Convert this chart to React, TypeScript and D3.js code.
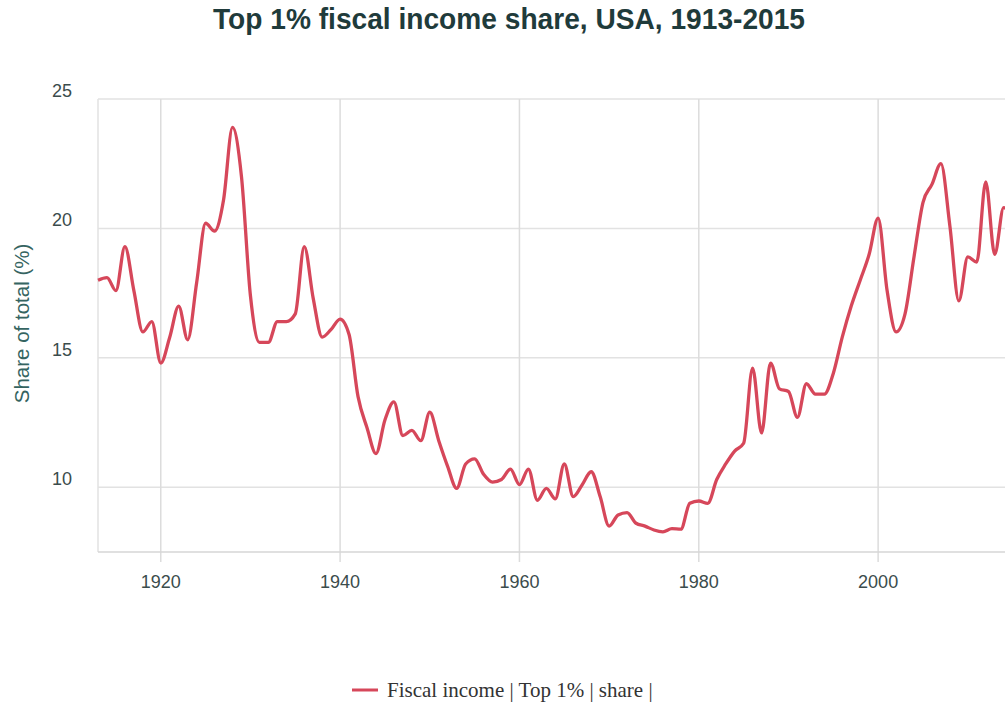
import * as d3 from "d3";
import React from "react";

// chart data: top 1% fiscal income share, USA
const years = [
  1913, 1914, 1915, 1916, 1917, 1918, 1919, 1920, 1921, 1922, 1923, 1924,
  1925, 1926, 1927, 1928, 1929, 1930, 1931, 1932, 1933, 1934, 1935, 1936,
  1937, 1938, 1939, 1940, 1941, 1942, 1943, 1944, 1945, 1946, 1947, 1948,
  1949, 1950, 1951, 1952, 1953, 1954, 1955, 1956, 1957, 1958, 1959, 1960,
  1961, 1962, 1963, 1964, 1965, 1966, 1967, 1968, 1969, 1970, 1971, 1972,
  1973, 1974, 1975, 1976, 1977, 1978, 1979, 1980, 1981, 1982, 1983, 1984,
  1985, 1986, 1987, 1988, 1989, 1990, 1991, 1992, 1993, 1994, 1995, 1996,
  1997, 1998, 1999, 2000, 2001, 2002, 2003, 2004, 2005, 2006, 2007, 2008,
  2009, 2010, 2011, 2012, 2013, 2014, 2015,
];

const shares = [
  18.0, 18.1, 17.6, 19.3, 17.6, 16.0, 16.4, 14.8, 15.8, 17.0, 15.7, 17.9,
  20.2, 19.9, 21.1, 23.9, 22.0, 17.4, 15.6, 15.6, 16.4, 16.4, 16.7, 19.3,
  17.3, 15.8, 16.1, 16.5, 15.9, 13.5, 12.3, 11.3, 12.6, 13.3, 12.0, 12.2,
  11.8, 12.9, 11.8, 10.8, 9.96, 10.9, 11.1, 10.5, 10.2, 10.3, 10.7, 10.1,
  10.7, 9.5, 9.96, 9.55, 10.9, 9.64, 10.1, 10.6, 9.64, 8.5, 8.93, 9.02,
  8.61, 8.5, 8.35, 8.28, 8.4, 8.38, 9.38, 9.47, 9.38, 10.3, 10.9, 11.4,
  11.7, 14.6, 12.1, 14.8, 13.8, 13.7, 12.7, 14.0, 13.6, 13.6, 14.4, 15.8,
  17.0, 18.0, 19.0, 20.4, 17.6, 16.0, 16.7, 18.9, 21.0, 21.7, 22.5, 20.1,
  17.2, 18.9, 18.7, 21.8, 19.0, 20.8, 20.5,
];

const xTicks = [1920, 1940, 1960, 1980, 2000];
const yTicks = [10, 15, 20, 25];

const title = "Top 1% fiscal income share, USA, 1913-2015";
const yTitle = "Share of total (%)";
const seriesName = "Fiscal income | Top 1% | share |";

const width = 1005;
const height = 702;
const left = 98;
const top = 99;
const bottom = 552;

export default function App() {
  const x = d3.scaleLinear().domain([1913, 2015]).range([left, left + 102 * 8.967]);
  const y = d3.scaleLinear().domain([7.5, 25]).range([bottom, top]);

  const points = years.map((yr, i) => [yr, shares[i]] as [number, number]);
  const line = d3
    .line<[number, number]>()
    .x((d) => x(d[0]))
    .y((d) => y(d[1]))
    .curve(d3.curveMonotoneX);

  const right = x(2015);
  const lineColor = "#d6475a";
  const labelColor = "#3b4c4c";
  const sans = "'Liberation Sans', Arial, Helvetica, sans-serif";

  return (
    <svg
      width={width}
      height={height}
      style={{ position: "absolute", left: 0, top: 0, background: "#fff" }}
    >
      <text
        x={509}
        y={29}
        textAnchor="middle"
        fontFamily={sans}
        fontWeight="bold"
        fontSize={30}
        fill="#1f3b3b"
        textLength={592}
        lengthAdjust="spacingAndGlyphs"
      >
        {title}
      </text>

      {/* horizontal grid */}
      {yTicks.map((t) => (
        <line
          key={"h" + t}
          x1={left}
          x2={right}
          y1={y(t)}
          y2={y(t)}
          stroke="#e2e2e2"
          strokeWidth={1.5}
        />
      ))}
      {/* vertical grid */}
      {xTicks.map((t) => (
        <line
          key={"v" + t}
          x1={x(t)}
          x2={x(t)}
          y1={top}
          y2={bottom + 10}
          stroke="#dcdcdc"
          strokeWidth={1.5}
        />
      ))}
      <line x1={left} x2={left} y1={top} y2={bottom} stroke="#e2e2e2" strokeWidth={1.5} />
      <line x1={left} x2={right} y1={bottom} y2={bottom} stroke="#d6d6d6" strokeWidth={1.5} />

      {yTicks.map((t) => (
        <text
          key={"yl" + t}
          x={72}
          y={y(t) - 2}
          textAnchor="end"
          fontFamily={sans}
          fontSize={18}
          fill={labelColor}
        >
          {t}
        </text>
      ))}
      {xTicks.map((t) => (
        <text
          key={"xl" + t}
          x={x(t)}
          y={588}
          textAnchor="middle"
          fontFamily={sans}
          fontSize={18}
          fill={labelColor}
        >
          {t}
        </text>
      ))}

      <text
        transform={`translate(29,${(top + bottom) / 2 - 2}) rotate(-90)`}
        textAnchor="middle"
        fontFamily={sans}
        fontSize={20.5}
        fill="#356461"
      >
        {yTitle}
      </text>

      <path
        d={line(points) ?? ""}
        fill="none"
        stroke={lineColor}
        strokeWidth={3.3}
        strokeLinejoin="round"
      />

      {/* legend */}
      <line x1={352} x2={378} y1={690} y2={690} stroke={lineColor} strokeWidth={3} />
      <text
        x={387}
        y={697}
        fontFamily="'Liberation Serif', 'Times New Roman', serif"
        fontSize={21}
        fill="#333"
      >
        {seriesName}
      </text>
    </svg>
  );
}
